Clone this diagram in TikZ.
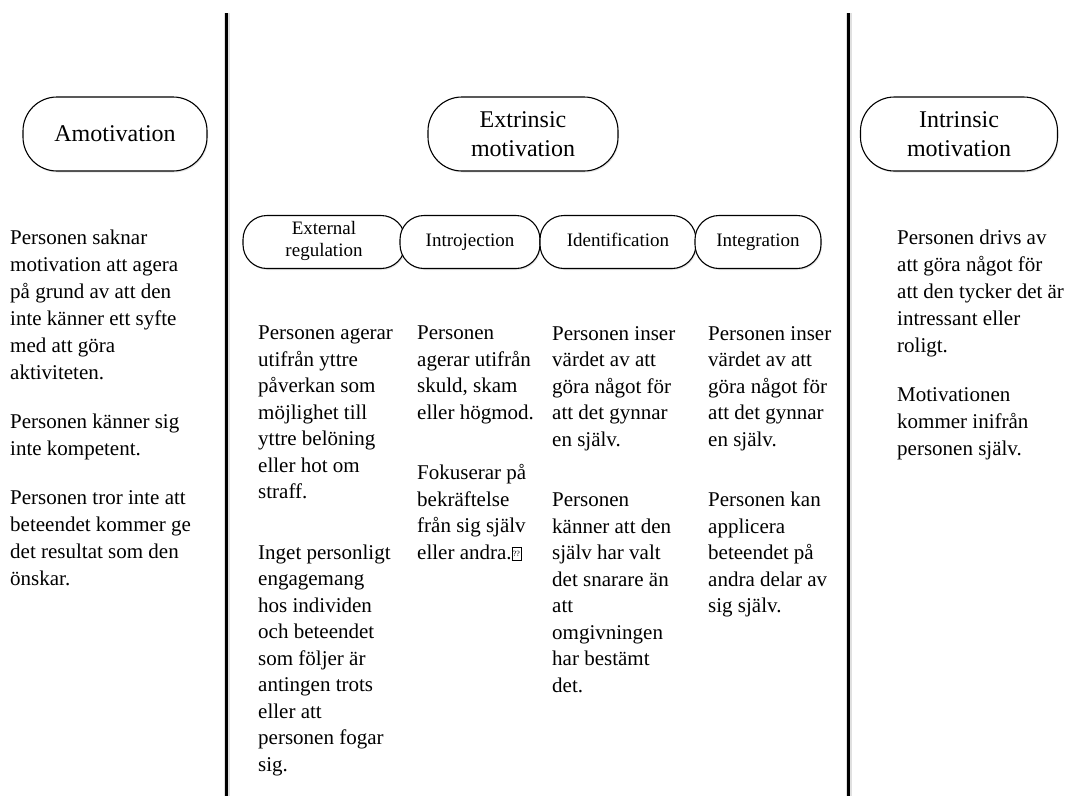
\documentclass[tikz,border=0pt]{standalone}
\usepackage{fontspec}
\setmainfont{Liberation Serif}
\usetikzlibrary{shadows}
\newcommand{\qbox}{{\setlength{\fboxsep}{0.8pt}\setlength{\fboxrule}{0.5pt}\fbox{\rule{0pt}{11pt}\raisebox{2.5pt}{\fontsize{8}{8}\selectfont ??}}}}
\begin{document}
\begin{tikzpicture}[x=1pt,y=1pt,
pill/.style={%
draw,
line width=1.1pt,
fill=white,
drop shadow={opacity=0.2,shadow xshift=1pt,shadow yshift=-1.5pt},
align=center,
},
head/.style={%
pill,
font=\fontsize{24}{28.5}\selectfont,
minimum height=74pt,
rounded corners=34pt,
},
sub/.style={%
pill,
font=\fontsize{19}{22}\selectfont,
minimum height=53pt,
rounded corners=24pt,
inner sep=0pt,
execute at begin node=\strut,
execute at end node=\strut,
},
side/.style={%
font=\fontsize{21}{27}\selectfont,
anchor=north west,
align=left,
inner sep=0pt,
},
col/.style={%
font=\fontsize{21}{26.5}\selectfont,
anchor=north west,
align=left,
inner sep=0pt,
},
divider/.style={%
line width=3pt,
}
]
\useasboundingbox(0,0)rectangle(1066,-796);

%dividers
\draw[line width=6pt,black!12](227,-13)--(227,-796);
\draw[line width=6pt,black!12](849,-13)--(849,-796);
\draw[divider](226,-13)--(226,-796);
\draw[divider](848,-13)--(848,-796);

%Amotivation
\node[head,minimum width=184pt](amot)at(115,-134){Amotivation};
\node[side](amottxt)at(10,-230){Personen saknar\\motivation att agera\\på grund av att den\\inte känner ett syfte\\med att göra\\aktiviteten.\\[22pt]Personen känner sig\\inte kompetent.\\[22pt]Personen tror inte att\\beteendet kommer ge\\det resultat som den\\önskar.};

%Extrinsic
\node[head,minimum width=190pt](extr)at(523,-134){Extrinsic\\motivation};
\node[sub,minimum width=162pt](extreg)at(324,-242){External\\regulation};
\node[sub,minimum width=140pt](introj)at(470,-242){Introjection};
\node[sub,minimum width=156pt](ident)at(618,-242){Identification};
\node[sub,minimum width=126pt](integr)at(758,-242){Integration};

\node[col](extregtxt)at(258,-326){Personen agerar\\utifrån yttre\\påverkan som\\möjlighet till\\yttre belöning\\eller hot om\\straff.\\[34pt]Inget personligt\\engagemang\\hos individen\\och beteendet\\som följer är\\antingen trots\\eller att\\personen fogar\\sig.};
\node[col](introjtxt)at(417,-326){Personen\\agerar utifrån\\skuld, skam\\eller högmod.\\[34pt]Fokuserar på\\bekräftelse\\från sig själv\\eller andra.\qbox};
\node[col](identtxt)at(552,-326){Personen inser\\värdet av att\\göra något för\\att det gynnar\\en själv.\\[34pt]Personen\\känner att den\\själv har valt\\det snarare än\\att\\omgivningen\\har bestämt\\det.};
\node[col](integrtxt)at(708,-326){Personen inser\\värdet av att\\göra något för\\att det gynnar\\en själv.\\[34pt]Personen kan\\applicera\\beteendet på\\andra delar av\\sig själv.};

%Intrinsic
\node[head,minimum width=197pt](intr)at(959,-134){Intrinsic\\motivation};
\node[side](intrtxt)at(897,-230){Personen drivs av\\att göra något för\\att den tycker det är\\intressant eller\\roligt.\\[22pt]Motivationen\\kommer inifrån\\personen själv.};

\end{tikzpicture}
\end{document}
